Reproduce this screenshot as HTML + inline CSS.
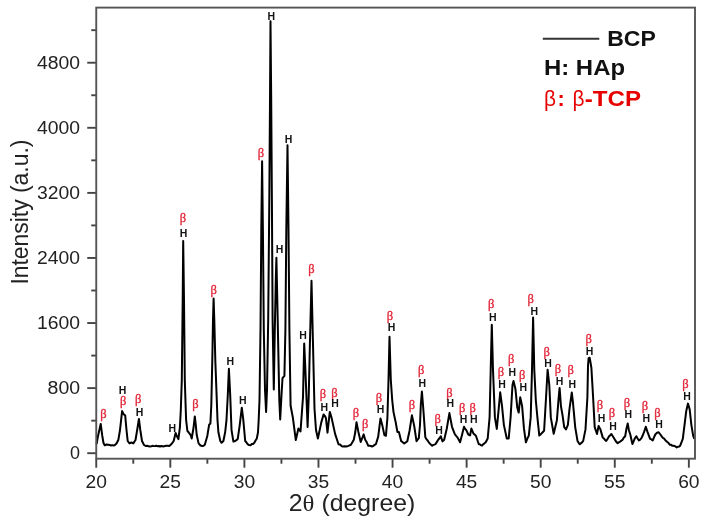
<!DOCTYPE html>
<html><head><meta charset="utf-8"><style>
html,body{margin:0;padding:0;background:#fff;}
body{width:704px;height:523px;overflow:hidden;}
svg{display:block;filter:blur(0.35px);}
text{font-family:"Liberation Sans",sans-serif;}
.tl{font-size:18px;fill:#222;}
.h{font-size:10.5px;font-weight:bold;fill:#111;text-anchor:middle;}
.b{font-size:11.5px;fill:#e2283a;stroke:#e2283a;stroke-width:0.3px;text-anchor:middle;font-family:"Liberation Serif",serif;}
</style></head><body>
<svg width="704" height="523" viewBox="0 0 704 523">
<rect width="704" height="523" fill="#fff"/>
<polyline points="96.60,444.00 97.60,438.00 100.70,423.90 102.30,436.00 103.50,443.00 104.70,445.30 106.50,444.50 108.40,444.70 109.70,444.94 111.00,445.50 112.20,445.12 113.40,445.50 114.60,445.30 116.50,443.50 118.40,439.70 120.00,430.00 122.10,411.10 123.50,414.00 125.20,415.50 126.50,430.00 127.70,441.00 129.50,443.40 131.50,442.50 133.30,443.40 135.50,440.00 137.50,428.00 138.90,418.90 140.30,430.00 142.00,441.00 144.00,445.00 145.70,446.00 147.13,445.78 148.57,446.37 150.00,446.50 151.25,446.25 152.50,445.85 153.75,446.13 155.00,446.00 156.25,445.71 157.50,446.19 158.75,445.99 160.00,446.50 161.25,446.01 162.50,446.18 163.75,446.42 165.00,446.00 166.43,445.66 167.87,445.75 169.30,446.00 171.00,444.50 172.35,442.86 173.70,441.00 175.60,432.90 176.80,436.00 178.40,439.10 179.90,427.30 180.80,410.00 181.80,380.00 182.70,300.00 183.20,241.10 184.00,300.00 184.80,380.00 185.60,405.00 186.10,419.80 187.40,431.00 188.60,432.30 190.50,434.80 191.70,438.50 193.50,428.00 194.80,416.40 195.80,425.00 196.70,434.80 198.60,443.40 200.50,445.50 202.30,445.90 203.55,445.70 204.80,444.70 207.30,436.00 209.10,424.80 210.40,423.60 211.30,405.00 212.30,360.00 213.00,320.00 213.60,298.60 214.30,320.00 215.30,360.00 216.60,395.00 217.50,420.00 218.40,432.30 220.30,441.00 221.60,442.80 223.40,441.00 225.20,432.00 226.50,419.80 227.80,395.00 228.90,368.80 230.20,395.00 231.50,429.80 233.40,441.60 235.20,441.00 236.45,440.12 237.70,439.10 239.60,426.10 241.80,407.70 243.30,419.80 245.20,441.00 246.40,442.46 247.60,444.10 249.10,445.13 250.60,445.30 251.83,444.06 253.07,443.96 254.30,442.80 255.55,440.46 256.80,438.50 258.00,432.30 258.70,419.80 259.50,400.00 260.50,330.00 261.30,230.00 262.10,161.30 262.90,230.00 263.80,330.00 265.00,390.00 266.10,412.00 267.00,390.00 268.20,320.00 269.30,200.00 270.00,100.00 270.50,21.30 271.20,100.00 271.90,200.00 272.60,320.00 273.80,389.60 274.80,330.00 275.80,280.00 276.40,257.70 277.30,300.00 278.30,350.00 279.30,400.00 280.20,419.40 281.50,395.00 282.50,378.20 284.40,375.90 285.40,330.00 286.30,230.00 287.50,145.20 288.50,230.00 289.40,330.00 290.60,405.70 292.80,417.20 295.80,440.10 298.40,428.50 300.50,431.50 303.00,397.20 304.20,343.50 305.30,367.50 307.60,427.00 308.70,397.20 310.00,340.00 311.50,280.70 312.90,340.00 314.50,408.70 316.00,430.00 317.90,438.50 321.30,422.40 323.60,414.40 324.75,415.83 325.90,417.90 327.50,432.70 329.80,411.90 331.60,417.90 335.10,433.90 338.50,444.20 339.65,444.43 340.80,445.18 341.95,446.21 343.10,446.50 344.60,446.21 346.10,446.50 347.25,446.20 348.40,445.88 349.55,445.26 350.70,445.00 352.25,442.39 353.80,439.70 355.30,432.00 356.50,422.20 358.40,432.00 360.70,442.00 362.20,438.10 363.70,434.40 365.20,439.70 366.75,442.36 368.30,445.80 369.57,445.64 370.83,446.00 372.10,446.50 373.37,445.90 374.63,444.90 375.90,444.20 378.20,436.60 380.50,418.40 382.10,424.40 384.40,435.10 385.90,435.80 387.40,418.20 388.50,380.00 389.50,336.80 390.80,380.00 392.20,400.00 393.50,412.10 395.80,422.80 397.40,432.00 398.90,432.00 401.20,441.20 402.70,442.18 404.20,443.50 405.75,442.43 407.30,441.20 409.60,430.50 411.90,415.30 414.20,425.90 416.50,441.20 417.65,439.61 418.80,438.10 420.00,425.00 420.80,405.00 421.90,391.50 423.00,405.00 423.60,413.00 425.30,437.10 426.20,438.80 427.50,440.37 428.80,442.30 429.93,443.70 431.07,444.75 432.20,445.70 433.33,444.90 434.47,444.63 435.60,444.00 436.90,441.87 438.20,439.70 439.50,438.29 440.80,436.20 442.50,441.40 444.20,439.70 446.80,428.50 449.40,413.10 452.00,426.80 454.60,433.70 455.90,435.61 457.20,437.10 458.65,439.51 460.10,442.30 462.30,433.70 464.00,426.80 465.15,428.93 466.30,430.20 468.30,434.50 470.10,435.40 471.40,428.50 473.50,433.70 474.80,434.61 476.10,436.20 478.70,444.00 479.83,444.43 480.97,445.23 482.10,445.50 483.30,444.12 484.50,443.36 485.70,442.30 487.70,438.50 489.60,417.40 490.70,370.00 491.80,324.70 493.00,370.00 494.90,417.40 496.80,428.90 498.80,407.80 500.20,392.30 502.00,405.90 503.90,425.10 506.80,438.50 508.70,438.50 510.60,417.40 512.50,384.90 513.50,380.90 515.40,388.70 517.30,407.80 518.70,412.60 520.20,397.30 522.10,405.90 524.00,428.90 525.90,442.30 527.35,438.54 528.80,435.60 530.70,417.40 532.00,370.00 533.10,317.60 534.30,370.00 535.80,400.00 537.40,417.40 539.30,435.60 540.75,434.30 542.20,432.70 544.10,430.80 546.00,398.30 547.60,369.70 549.30,384.90 550.80,417.40 553.70,433.70 556.90,420.20 558.70,397.30 559.60,387.90 561.00,406.50 562.60,415.60 564.20,427.10 566.00,429.40 567.90,424.80 569.50,408.80 571.80,392.50 572.90,401.90 575.20,427.10 577.50,440.90 578.65,442.84 579.80,444.30 580.93,443.23 582.07,442.37 583.20,440.90 585.50,429.40 587.40,397.30 588.00,366.00 588.60,358.20 589.70,357.80 590.60,363.00 591.40,368.00 593.10,397.30 594.70,427.10 597.00,434.00 598.60,426.00 600.40,429.40 602.70,437.40 603.87,438.40 605.03,439.91 606.20,440.90 607.65,438.68 609.10,436.30 610.25,435.22 611.40,434.00 612.80,436.26 614.20,438.60 615.33,440.44 616.47,442.07 617.60,443.20 618.77,442.41 619.93,441.81 621.10,440.90 622.60,439.70 623.90,437.55 625.20,436.20 626.50,428.50 627.70,423.40 628.90,430.20 630.30,434.50 632.40,444.00 633.50,441.58 634.60,438.80 636.30,436.20 637.60,438.48 638.90,440.50 640.20,439.69 641.50,438.00 642.80,435.24 644.10,431.90 645.80,426.80 647.50,431.90 650.10,438.80 651.40,439.46 652.70,440.50 654.00,437.40 655.30,434.50 657.00,432.80 658.70,432.30 660.40,434.50 661.70,436.40 663.00,438.00 664.17,438.70 665.33,440.23 666.50,441.40 667.63,442.23 668.77,443.32 669.90,444.80 671.03,444.70 672.17,445.64 673.30,445.70 674.47,445.93 675.63,446.61 676.80,447.40 677.93,446.74 679.07,446.60 680.20,445.70 682.80,438.80 684.50,425.10 686.20,411.30 688.00,403.60 689.70,409.60 691.40,425.10 693.10,435.40 694.30,438.80" fill="none" stroke="#000" stroke-width="2.0" stroke-linejoin="round"/>
<g stroke="#444" stroke-width="1.9" fill="none">
<line x1="96.25" y1="458.7" x2="96.25" y2="467.7"/>
<line x1="133.29" y1="458.7" x2="133.29" y2="463.7"/>
<line x1="170.32" y1="458.7" x2="170.32" y2="467.7"/>
<line x1="207.36" y1="458.7" x2="207.36" y2="463.7"/>
<line x1="244.40" y1="458.7" x2="244.40" y2="467.7"/>
<line x1="281.44" y1="458.7" x2="281.44" y2="463.7"/>
<line x1="318.48" y1="458.7" x2="318.48" y2="467.7"/>
<line x1="355.51" y1="458.7" x2="355.51" y2="463.7"/>
<line x1="392.55" y1="458.7" x2="392.55" y2="467.7"/>
<line x1="429.59" y1="458.7" x2="429.59" y2="463.7"/>
<line x1="466.62" y1="458.7" x2="466.62" y2="467.7"/>
<line x1="503.66" y1="458.7" x2="503.66" y2="463.7"/>
<line x1="540.70" y1="458.7" x2="540.70" y2="467.7"/>
<line x1="577.74" y1="458.7" x2="577.74" y2="463.7"/>
<line x1="614.77" y1="458.7" x2="614.77" y2="467.7"/>
<line x1="651.81" y1="458.7" x2="651.81" y2="463.7"/>
<line x1="688.85" y1="458.7" x2="688.85" y2="467.7"/>
<line x1="87.25" y1="453.20" x2="96.25" y2="453.20"/>
<line x1="91.25" y1="420.66" x2="96.25" y2="420.66"/>
<line x1="87.25" y1="388.12" x2="96.25" y2="388.12"/>
<line x1="91.25" y1="355.58" x2="96.25" y2="355.58"/>
<line x1="87.25" y1="323.04" x2="96.25" y2="323.04"/>
<line x1="91.25" y1="290.50" x2="96.25" y2="290.50"/>
<line x1="87.25" y1="257.96" x2="96.25" y2="257.96"/>
<line x1="91.25" y1="225.42" x2="96.25" y2="225.42"/>
<line x1="87.25" y1="192.88" x2="96.25" y2="192.88"/>
<line x1="91.25" y1="160.34" x2="96.25" y2="160.34"/>
<line x1="87.25" y1="127.80" x2="96.25" y2="127.80"/>
<line x1="91.25" y1="95.26" x2="96.25" y2="95.26"/>
<line x1="87.25" y1="62.72" x2="96.25" y2="62.72"/>
<line x1="91.25" y1="30.18" x2="96.25" y2="30.18"/>
</g>
<rect x="96.25" y="7.6" width="598.75" height="451.10" stroke="#555" stroke-width="1.9" fill="none"/>
<text x="96.25" y="487.6" class="tl" text-anchor="middle" textLength="21.4" lengthAdjust="spacingAndGlyphs">20</text>
<text x="170.32" y="487.6" class="tl" text-anchor="middle" textLength="21.4" lengthAdjust="spacingAndGlyphs">25</text>
<text x="244.40" y="487.6" class="tl" text-anchor="middle" textLength="21.4" lengthAdjust="spacingAndGlyphs">30</text>
<text x="318.48" y="487.6" class="tl" text-anchor="middle" textLength="21.4" lengthAdjust="spacingAndGlyphs">35</text>
<text x="392.55" y="487.6" class="tl" text-anchor="middle" textLength="21.4" lengthAdjust="spacingAndGlyphs">40</text>
<text x="466.62" y="487.6" class="tl" text-anchor="middle" textLength="21.4" lengthAdjust="spacingAndGlyphs">45</text>
<text x="540.70" y="487.6" class="tl" text-anchor="middle" textLength="21.4" lengthAdjust="spacingAndGlyphs">50</text>
<text x="614.77" y="487.6" class="tl" text-anchor="middle" textLength="21.4" lengthAdjust="spacingAndGlyphs">55</text>
<text x="688.85" y="487.6" class="tl" text-anchor="middle" textLength="21.4" lengthAdjust="spacingAndGlyphs">60</text>
<text x="80.1" y="459.40" class="tl" text-anchor="end" textLength="10.0" lengthAdjust="spacingAndGlyphs">0</text>
<text x="80.1" y="394.32" class="tl" text-anchor="end" textLength="32.5" lengthAdjust="spacingAndGlyphs">800</text>
<text x="80.1" y="329.24" class="tl" text-anchor="end" textLength="43.0" lengthAdjust="spacingAndGlyphs">1600</text>
<text x="80.1" y="264.16" class="tl" text-anchor="end" textLength="43.0" lengthAdjust="spacingAndGlyphs">2400</text>
<text x="80.1" y="199.08" class="tl" text-anchor="end" textLength="43.0" lengthAdjust="spacingAndGlyphs">3200</text>
<text x="80.1" y="134.00" class="tl" text-anchor="end" textLength="43.0" lengthAdjust="spacingAndGlyphs">4000</text>
<text x="80.1" y="68.92" class="tl" text-anchor="end" textLength="43.0" lengthAdjust="spacingAndGlyphs">4800</text>
<text x="288.8" y="510.6" font-size="23.4" fill="#222" textLength="126.5" lengthAdjust="spacingAndGlyphs">2<tspan font-family="Liberation Serif">&#952;</tspan> (degree)</text>
<text transform="translate(27.8,284.6) rotate(-90)" x="0" y="0" font-size="23" fill="#222" textLength="145" lengthAdjust="spacingAndGlyphs">Intensity (a.u.)</text>
<line x1="542.8" y1="38.75" x2="599.3" y2="38.75" stroke="#333" stroke-width="1.8"/>
<text x="607.2" y="46.0" font-size="21.6" font-weight="bold" fill="#111" textLength="48.6" lengthAdjust="spacingAndGlyphs">BCP</text>
<text x="544.0" y="74.8" font-size="21.6" font-weight="bold" fill="#111" textLength="81" lengthAdjust="spacingAndGlyphs">H: HAp</text>
<text x="544.0" y="105.6" font-size="22" fill="#e60000" font-family="Liberation Serif" textLength="12" lengthAdjust="spacingAndGlyphs">&#946;</text>
<text x="557.6" y="105.6" font-size="21.6" font-weight="bold" fill="#e60000">:</text>
<text x="572.5" y="105.6" font-size="22" fill="#e60000" font-family="Liberation Serif" textLength="12" lengthAdjust="spacingAndGlyphs">&#946;</text>
<text x="584.8" y="105.6" font-size="21.6" font-weight="bold" fill="#e60000" textLength="56.2" lengthAdjust="spacingAndGlyphs">-TCP</text>
<text x="103.5" y="417.7" class="b" textLength="6.4" lengthAdjust="spacingAndGlyphs">&#946;</text>
<text x="123.1" y="404.5" class="b" textLength="6.4" lengthAdjust="spacingAndGlyphs">&#946;</text>
<text x="122.5" y="393.9" class="h">H</text>
<text x="138.2" y="402.6" class="b" textLength="6.4" lengthAdjust="spacingAndGlyphs">&#946;</text>
<text x="139.5" y="416.2" class="h">H</text>
<text x="172.4" y="431.7" class="h">H</text>
<text x="183.0" y="222.4" class="b" textLength="6.4" lengthAdjust="spacingAndGlyphs">&#946;</text>
<text x="183.5" y="236.5" class="h">H</text>
<text x="195.5" y="407.6" class="b" textLength="6.4" lengthAdjust="spacingAndGlyphs">&#946;</text>
<text x="213.7" y="293.9" class="b" textLength="6.4" lengthAdjust="spacingAndGlyphs">&#946;</text>
<text x="230.2" y="364.6" class="h">H</text>
<text x="242.7" y="404.4" class="h">H</text>
<text x="261.0" y="156.6" class="b" textLength="6.4" lengthAdjust="spacingAndGlyphs">&#946;</text>
<text x="271.4" y="19.6" class="h">H</text>
<text x="279.6" y="253.1" class="h">H</text>
<text x="288.5" y="142.6" class="h">H</text>
<text x="303.0" y="338.8" class="h">H</text>
<text x="311.5" y="273.4" class="b" textLength="6.4" lengthAdjust="spacingAndGlyphs">&#946;</text>
<text x="322.9" y="397.7" class="b" textLength="6.4" lengthAdjust="spacingAndGlyphs">&#946;</text>
<text x="324.3" y="410.8" class="h">H</text>
<text x="334.4" y="396.6" class="b" textLength="6.4" lengthAdjust="spacingAndGlyphs">&#946;</text>
<text x="335.1" y="407.4" class="h">H</text>
<text x="356.0" y="417.4" class="b" textLength="6.4" lengthAdjust="spacingAndGlyphs">&#946;</text>
<text x="365.2" y="428.3" class="b" textLength="6.4" lengthAdjust="spacingAndGlyphs">&#946;</text>
<text x="379.0" y="401.5" class="b" textLength="6.4" lengthAdjust="spacingAndGlyphs">&#946;</text>
<text x="380.5" y="412.7" class="h">H</text>
<text x="390.0" y="319.7" class="b" textLength="6.4" lengthAdjust="spacingAndGlyphs">&#946;</text>
<text x="391.5" y="331.0" class="h">H</text>
<text x="411.9" y="409.1" class="b" textLength="6.4" lengthAdjust="spacingAndGlyphs">&#946;</text>
<text x="421.2" y="374.2" class="b" textLength="6.4" lengthAdjust="spacingAndGlyphs">&#946;</text>
<text x="422.2" y="387.3" class="h">H</text>
<text x="437.7" y="422.9" class="b" textLength="6.4" lengthAdjust="spacingAndGlyphs">&#946;</text>
<text x="439.1" y="434.3" class="h">H</text>
<text x="449.4" y="397.1" class="b" textLength="6.4" lengthAdjust="spacingAndGlyphs">&#946;</text>
<text x="450.3" y="407.4" class="h">H</text>
<text x="462.3" y="411.7" class="b" textLength="6.4" lengthAdjust="spacingAndGlyphs">&#946;</text>
<text x="463.5" y="422.6" class="h">H</text>
<text x="472.6" y="411.7" class="b" textLength="6.4" lengthAdjust="spacingAndGlyphs">&#946;</text>
<text x="473.8" y="422.6" class="h">H</text>
<text x="491.1" y="308.0" class="b" textLength="6.4" lengthAdjust="spacingAndGlyphs">&#946;</text>
<text x="492.9" y="320.6" class="h">H</text>
<text x="501.0" y="375.6" class="b" textLength="6.4" lengthAdjust="spacingAndGlyphs">&#946;</text>
<text x="502.1" y="388.1" class="h">H</text>
<text x="511.3" y="363.0" class="b" textLength="6.4" lengthAdjust="spacingAndGlyphs">&#946;</text>
<text x="512.4" y="376.1" class="h">H</text>
<text x="522.3" y="379.1" class="b" textLength="6.4" lengthAdjust="spacingAndGlyphs">&#946;</text>
<text x="523.2" y="391.1" class="h">H</text>
<text x="530.8" y="303.4" class="b" textLength="6.4" lengthAdjust="spacingAndGlyphs">&#946;</text>
<text x="534.2" y="315.4" class="h">H</text>
<text x="546.8" y="355.5" class="b" textLength="6.4" lengthAdjust="spacingAndGlyphs">&#946;</text>
<text x="548.0" y="367.0" class="h">H</text>
<text x="558.0" y="372.6" class="b" textLength="6.4" lengthAdjust="spacingAndGlyphs">&#946;</text>
<text x="559.6" y="385.2" class="h">H</text>
<text x="570.6" y="373.7" class="b" textLength="6.4" lengthAdjust="spacingAndGlyphs">&#946;</text>
<text x="572.2" y="388.4" class="h">H</text>
<text x="588.7" y="342.5" class="b" textLength="6.4" lengthAdjust="spacingAndGlyphs">&#946;</text>
<text x="589.6" y="355.2" class="h">H</text>
<text x="600.0" y="409.2" class="b" textLength="6.4" lengthAdjust="spacingAndGlyphs">&#946;</text>
<text x="601.6" y="422.3" class="h">H</text>
<text x="611.9" y="416.8" class="b" textLength="6.4" lengthAdjust="spacingAndGlyphs">&#946;</text>
<text x="613.0" y="429.7" class="h">H</text>
<text x="626.9" y="407.4" class="b" textLength="6.4" lengthAdjust="spacingAndGlyphs">&#946;</text>
<text x="628.3" y="418.3" class="h">H</text>
<text x="645.0" y="410.0" class="b" textLength="6.4" lengthAdjust="spacingAndGlyphs">&#946;</text>
<text x="646.2" y="422.2" class="h">H</text>
<text x="657.5" y="416.9" class="b" textLength="6.4" lengthAdjust="spacingAndGlyphs">&#946;</text>
<text x="659.1" y="427.7" class="h">H</text>
<text x="685.4" y="387.7" class="b" textLength="6.4" lengthAdjust="spacingAndGlyphs">&#946;</text>
<text x="687.1" y="400.2" class="h">H</text>
</svg>
</body></html>
